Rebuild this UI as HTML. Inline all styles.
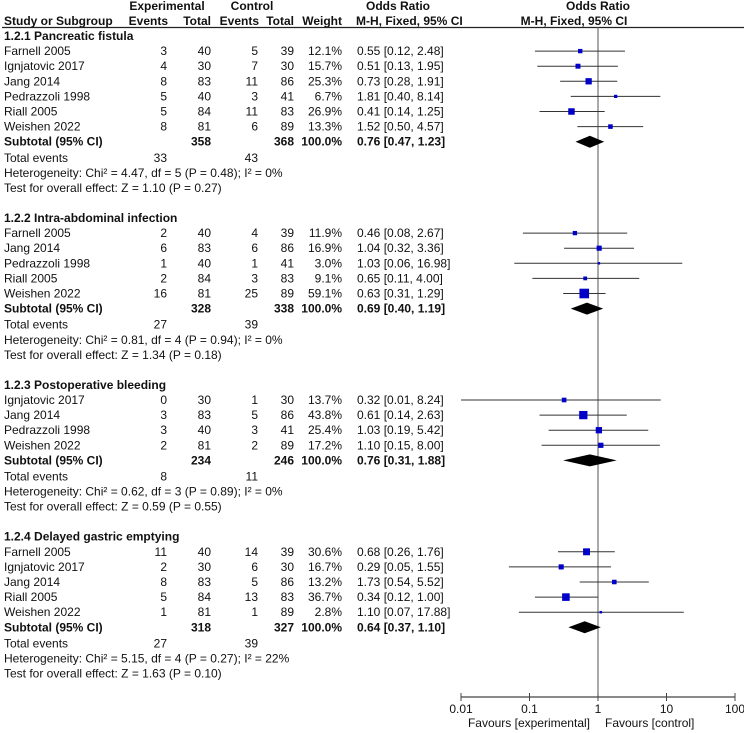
<!DOCTYPE html>
<html><head><meta charset="utf-8">
<style>
html,body{margin:0;padding:0;background:#fff;}
svg{display:block;font-family:"Liberation Sans",Arial,sans-serif;font-size:12px;fill:#111;}
.b{font-weight:bold;}
</style></head>
<body>
<svg id="chart" width="744" height="733" viewBox="0 0 744 733" xmlns="http://www.w3.org/2000/svg">
<g>
<text x="167" y="10" text-anchor="middle" class="b">Experimental</text>
<text x="252" y="10" text-anchor="middle" class="b">Control</text>
<text x="398" y="10" text-anchor="middle" class="b">Odds Ratio</text>
<text x="598" y="10" text-anchor="middle" class="b">Odds Ratio</text>
<text x="4" y="25" class="b">Study or Subgroup</text>
<text x="168" y="25" text-anchor="end" class="b">Events</text>
<text x="211" y="25" text-anchor="end" class="b">Total</text>
<text x="259" y="25" text-anchor="end" class="b">Events</text>
<text x="294" y="25" text-anchor="end" class="b">Total</text>
<text x="342" y="25" text-anchor="end" class="b">Weight</text>
<text x="356" y="25" class="b">M-H, Fixed, 95% CI</text>
<text x="574" y="25" text-anchor="middle" class="b">M-H, Fixed, 95% CI</text>
<line x1="2" y1="27.5" x2="744" y2="27.5" stroke="#222" stroke-width="1.2"/>
</g>
<line x1="598" y1="27" x2="598" y2="697" stroke="#555" stroke-width="1"/>
<g id="rows"></g>
<g id="axis"></g>
</svg>
<script>
const groupTitles = ["1.2.1 Pancreatic fistula","1.2.2 Intra-abdominal infection","1.2.3 Postoperative bleeding","1.2.4 Delayed gastric emptying"];
const studyNames = [
 ["Farnell 2005","Ignjatovic 2017","Jang 2014","Pedrazzoli 1998","Riall 2005","Weishen 2022"],
 ["Farnell 2005","Jang 2014","Pedrazzoli 1998","Riall 2005","Weishen 2022"],
 ["Ignjatovic 2017","Jang 2014","Pedrazzoli 1998","Weishen 2022"],
 ["Farnell 2005","Ignjatovic 2017","Jang 2014","Riall 2005","Weishen 2022"]];
const expEvents = [[3,4,8,5,5,8],[2,6,1,2,16],[0,3,3,2],[11,2,8,5,1]];
const expTotal = [[40,30,83,40,84,81],[40,83,40,84,81],[30,83,40,81],[40,30,83,84,81]];
const ctrlEvents = [[5,7,11,3,11,6],[4,6,1,3,25],[1,5,3,2],[14,6,5,13,1]];
const ctrlTotal = [[39,30,86,41,83,89],[39,86,41,83,89],[30,86,41,89],[39,30,86,83,89]];
const weights = [[12.1,15.7,25.3,6.7,26.9,13.3],[11.9,16.9,3.0,9.1,59.1],[13.7,43.8,25.4,17.2],[30.6,16.7,13.2,36.7,2.8]];
const orVals = [[0.55,0.51,0.73,1.81,0.41,1.52],[0.46,1.04,1.03,0.65,0.63],[0.32,0.61,1.03,1.10],[0.68,0.29,1.73,0.34,1.10]];
const orLow = [[0.12,0.13,0.28,0.40,0.14,0.50],[0.08,0.32,0.06,0.11,0.31],[0.01,0.14,0.19,0.15],[0.26,0.05,0.54,0.12,0.07]];
const orHigh = [[2.48,1.95,1.91,8.14,1.25,4.57],[2.67,3.36,16.98,4.00,1.29],[8.24,2.63,5.42,8.00],[1.76,1.55,5.52,1.00,17.88]];
const subExpTotal = [358,328,234,318];
const subCtrlTotal = [368,338,246,327];
const subOr = [0.76,0.69,0.76,0.64];
const subLow = [0.47,0.40,0.31,0.37];
const subHigh = [1.23,1.19,1.88,1.10];
const totalExpEvents = [33,27,8,27];
const totalCtrlEvents = [43,39,11,39];
const hetText = ["Heterogeneity: Chi² = 4.47, df = 5 (P = 0.48); I² = 0%","Heterogeneity: Chi² = 0.81, df = 4 (P = 0.94); I² = 0%","Heterogeneity: Chi² = 0.62, df = 3 (P = 0.89); I² = 0%","Heterogeneity: Chi² = 5.15, df = 4 (P = 0.27); I² = 22%"];
const testText = ["Test for overall effect: Z = 1.10 (P = 0.27)","Test for overall effect: Z = 1.34 (P = 0.18)","Test for overall effect: Z = 0.59 (P = 0.55)","Test for overall effect: Z = 1.63 (P = 0.10)"];
const tickValues = [0.01,0.1,1,10,100];
const tickLabels = ["0.01","0.1","1","10","100"];

const NS="http://www.w3.org/2000/svg";
const rows=document.getElementById('rows');
const axisG=document.getElementById('axis');
function xScale(v){return 598+68.5*Math.log10(v);}
function el(tag,attrs,parent,txt){const e=document.createElementNS(NS,tag);for(const k in attrs)e.setAttribute(k,attrs[k]);if(txt!==undefined)e.textContent=txt;parent.appendChild(e);return e;}
function fmt(v){return v.toFixed(2);}
function txt(x,y,s,anchor,bold,name,parent){
  const t=el('text',{x:x,y:y+4,'text-anchor':anchor||'start'},parent,s);
  if(bold)t.setAttribute('class','b');
  
  
  return t;
}
const pitch=15.1;
let y0=36;
for(let g=0;g<groupTitles.length;g++){
  const G=el('g',{},rows);
  
  
  txt(4,y0,groupTitles[g],'start',true,'subgroup-title',G);
  const n=studyNames[g].length;
  for(let i=0;i<n;i++){
    const y=y0+(i+1)*pitch;
    const R=el('g',{},G);
    
    
    txt(4,y,studyNames[g][i],'start',false,'study-name',R);
    txt(167,y,String(expEvents[g][i]),'end',false,'exp-events',R);
    txt(211,y,String(expTotal[g][i]),'end',false,'exp-total',R);
    txt(258,y,String(ctrlEvents[g][i]),'end',false,'ctrl-events',R);
    txt(294,y,String(ctrlTotal[g][i]),'end',false,'ctrl-total',R);
    txt(342,y,weights[g][i].toFixed(1)+'%','end',false,'weight',R);
    txt(357,y,fmt(orVals[g][i])+' ['+fmt(orLow[g][i])+', '+fmt(orHigh[g][i])+']','start',false,'odds-ratio-ci',R);
    const ci=el('line',{x1:xScale(orLow[g][i]),x2:xScale(orHigh[g][i]),y1:y,y2:y,stroke:'#333','stroke-width':1},R);
    
    
    const s=Math.max(2.5,1.25*Math.sqrt(weights[g][i]));
    const sq=el('rect',{x:xScale(orVals[g][i])-s/2,y:y-s/2,width:s,height:s,fill:'#0000c8'},R);
    
    
  }
  const ys=y0+(n+1)*pitch;
  txt(4,ys,'Subtotal (95% CI)','start',true,'subtotal-label',G);
  txt(211,ys,String(subExpTotal[g]),'end',true,'subtotal-exp-total',G);
  txt(294,ys,String(subCtrlTotal[g]),'end',true,'subtotal-ctrl-total',G);
  txt(342,ys,'100.0%','end',true,'subtotal-weight',G);
  txt(357,ys,fmt(subOr[g])+' ['+fmt(subLow[g])+', '+fmt(subHigh[g])+']','start',true,'subtotal-or',G);
  const xl=xScale(subLow[g]),xh=xScale(subHigh[g]),xm=xScale(subOr[g]);
  const d=el('polygon',{points:`${xl},${ys} ${xm},${ys-6} ${xh},${ys} ${xm},${ys+6}`,fill:'#000'},G);
  
  
  const yt=ys+pitch+1;
  txt(4,yt,'Total events','start',false,'total-events-label',G);
  txt(167,yt,String(totalExpEvents[g]),'end',false,'total-exp-events',G);
  txt(258,yt,String(totalCtrlEvents[g]),'end',false,'total-ctrl-events',G);
  txt(4,yt+pitch,hetText[g],'start',false,'heterogeneity',G);
  txt(4,yt+2*pitch,testText[g],'start',false,'overall-effect',G);
  y0=yt+2*pitch+30;
}
// axis
const ay=697;
const al=el('line',{x1:xScale(tickValues[0]),x2:xScale(tickValues[tickValues.length-1]),y1:ay,y2:ay,stroke:'#444','stroke-width':1.2},axisG);


for(let i=0;i<tickValues.length;i++){
  const x=xScale(tickValues[i]);
  const tk=el('line',{x1:x,x2:x,y1:ay-4,y2:ay+4,stroke:'#444','stroke-width':1},axisG);
  
  
  const t=el('text',{x:x,y:ay+16,'text-anchor':'middle'},axisG,tickLabels[i]);
  
  
}
const f1=el('text',{x:590,y:ay+30,'text-anchor':'end'},axisG,'Favours [experimental]');


const f2=el('text',{x:605,y:ay+30,'text-anchor':'start'},axisG,'Favours [control]');


</script>
</body></html>
